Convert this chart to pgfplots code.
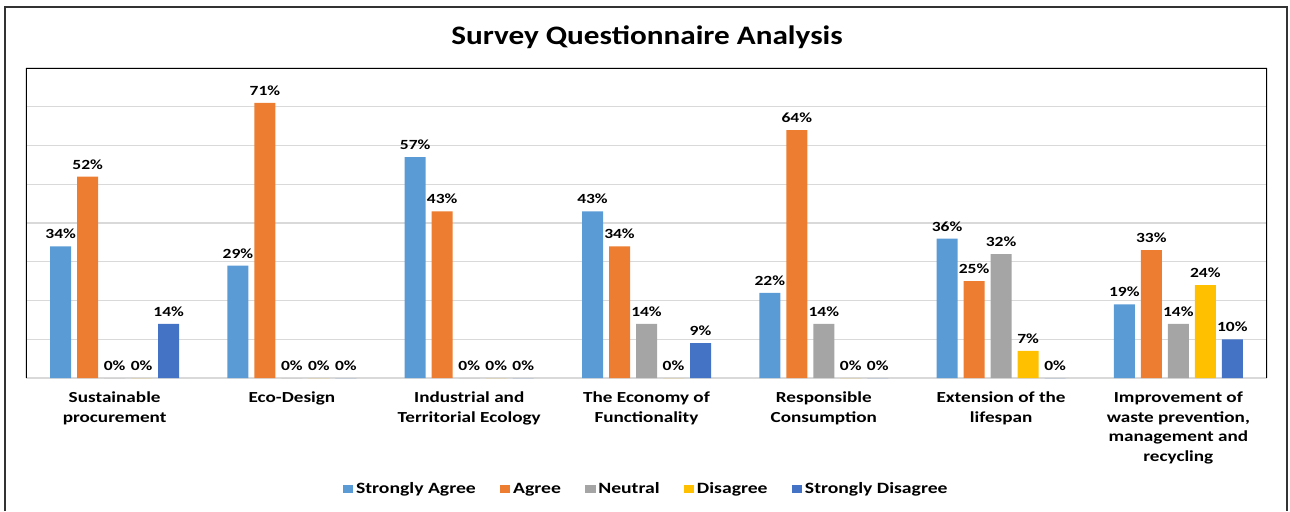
\documentclass[border=0pt]{standalone}
\usepackage{pgfplots}
\pgfplotsset{compat=1.18}
\usepackage{fontspec}
\setmainfont{Carlito}[FakeStretch=1.25]
\newfontfamily\titlefont{Carlito}[FakeStretch=1.17]
\definecolor{cSA}{HTML}{5B9BD5}
\definecolor{cA}{HTML}{ED7D31}
\definecolor{cN}{HTML}{A5A5A5}
\definecolor{cD}{HTML}{FFC000}
\definecolor{cSD}{HTML}{4472C4}
\begin{document}
\begin{tikzpicture}
\useasboundingbox (-19.5pt,-99.75pt) rectangle (948pt,283.5pt);
\begin{axis}[
  at={(0,0)}, anchor=south west,
  scale only axis, width=930.75pt, height=232.5pt,
  ybar=4.5pt, bar width=15.75pt,
  xmin=-0.5, xmax=6.5, ymin=0, ymax=80,
  xtick=data,
  xticklabels={{Sustainable\\procurement},{Eco-Design},{Industrial and\\Territorial Ecology},{The Economy of\\Functionality},{Responsible\\Consumption},{Extension of the\\lifespan},{Improvement of\\waste prevention,\\management and\\recycling}},
  xticklabel style={align=center, font=\bfseries\fontsize{11.5}{14.6}\selectfont, yshift=-7pt},
  major tick length=0pt,
  ytick={0,10,...,80}, yticklabels={},
  ymajorgrids, grid style={draw=black!15, line width=0.8pt},
  axis line style={draw=none},
  /pgf/number format/assume math mode=true,
  point meta=y,
  nodes near coords={\pgfmathprintnumber{\pgfplotspointmeta}\%},
  every node near coord/.append style={font=\bfseries\fontsize{10.5}{12}\selectfont, text=black, yshift=2pt},
  legend style={at={(0.5,-0.358)}, anchor=center, legend columns=-1, draw=none,
    font=\bfseries\fontsize{11.8}{14}\selectfont,
    /tikz/every even column/.append style={column sep=16pt},
    nodes={inner xsep=2pt}},
  legend image code/.code={\fill[#1] (0pt,-3.2pt) rectangle (8pt,3.2pt);},
]
\addplot[fill=cSA, draw=none] coordinates {(0,34) (1,29) (2,57) (3,43) (4,22) (5,36) (6,19)};
\addplot[fill=cA, draw=none] coordinates {(0,52) (1,71) (2,43) (3,34) (4,64) (5,25) (6,33)};
\addplot[fill=cN, draw=none] coordinates {(0,0) (1,0) (2,0) (3,14) (4,14) (5,32) (6,14)};
\addplot[fill=cD, draw=none] coordinates {(0,0) (1,0) (2,0) (3,0) (4,0) (5,7) (6,24)};
\addplot[fill=cSD, draw=none] coordinates {(0,14) (1,0) (2,0) (3,9) (4,0) (5,0) (6,10)};
\legend{Strongly Agree, Agree, Neutral, Disagree, Strongly Disagree}
\draw[black, line width=1.1pt] (rel axis cs:0,0) -- (rel axis cs:0,1) -- (rel axis cs:1,1) -- (rel axis cs:1,0);
\end{axis}
\node[font=\titlefont\bfseries\fontsize{20}{24}\selectfont] at (465.75pt,255.75pt) {Survey Questionnaire Analysis};
\draw[black!80, line width=1.5pt] (-15.75pt,-99.75pt) -- (-15.75pt,278.25pt) -- (945.75pt,278.25pt) -- (945.75pt,-99.75pt);
\end{tikzpicture}
\end{document}
